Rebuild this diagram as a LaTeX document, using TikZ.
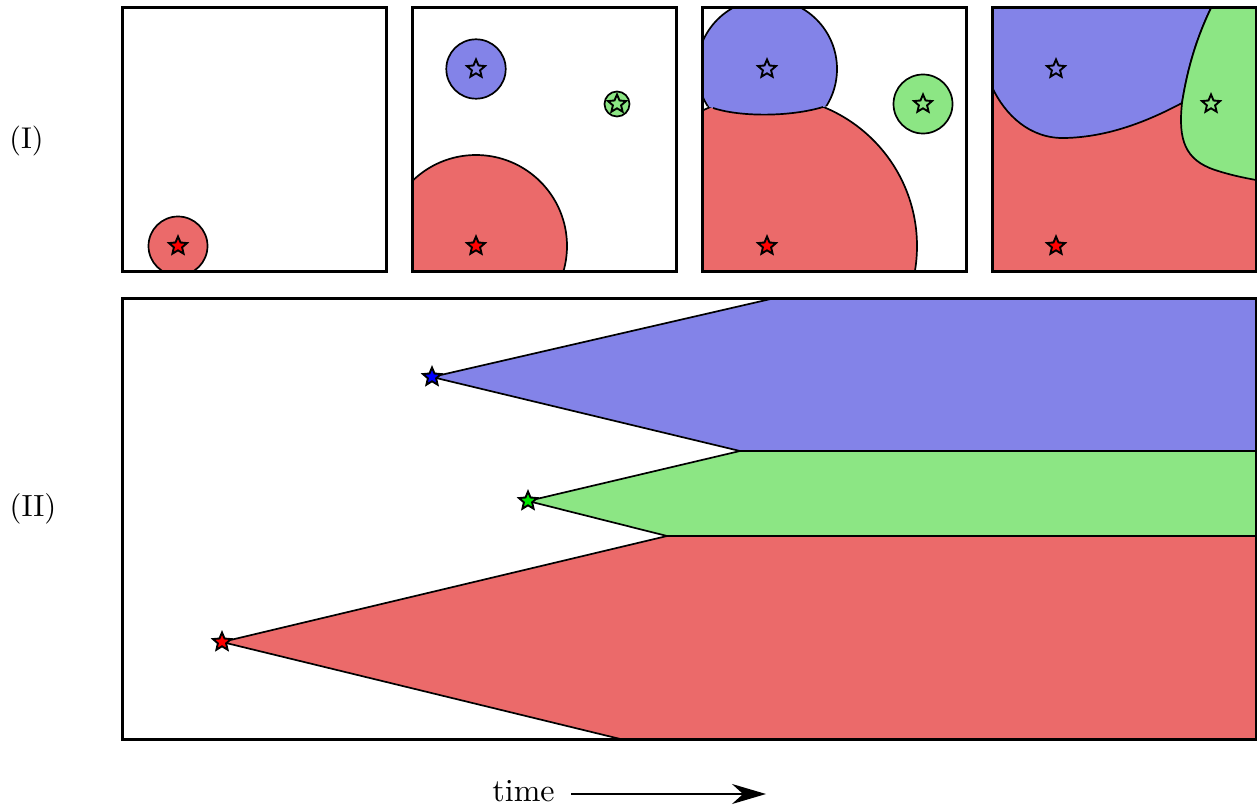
\documentclass[tikz,border=0pt]{standalone}
\usepackage{graphicx}
\usetikzlibrary{shapes.geometric,arrows.meta}
\definecolor{rfill}{RGB}{235,106,106}
\definecolor{bfill}{RGB}{131,131,232}
\definecolor{gfill}{RGB}{140,230,132}
\definecolor{sred}{RGB}{255,0,0}
\definecolor{sblue}{RGB}{0,0,255}
\definecolor{sgreen}{RGB}{0,230,0}
\begin{document}
\begin{tikzpicture}[x=0.5pt,y=-0.5pt,
  frame/.style={line width=1.5pt},
  region/.style={line width=0.85pt,draw=black},
  starnode/.style={star,star points=5,star point ratio=2.2,minimum size=9.5pt,inner sep=0pt,draw=black,line width=0.95pt},
  lbl/.style={inner sep=0pt}]
\useasboundingbox (0,0) rectangle (1257,808);

% ---------- Panel 1 ----------
\begin{scope}
  \clip (122,8) rectangle (386,271);
  \draw[region,fill=rfill] (178,246) circle (29.5);
\end{scope}
\draw[frame] (122,8) rectangle (386,271);
\node[starnode,fill=sred] (p1r) at (178,246) {};

% ---------- Panel 2 ----------
\begin{scope}
  \clip (412,8) rectangle (676,271);
  \draw[region,fill=rfill] (476,246) circle (91);
  \draw[region,fill=bfill] (476,69) circle (29.7);
  \draw[region,fill=gfill] (617,104) circle (12.5);
\end{scope}
\draw[frame] (412,8) rectangle (676,271);
\node[starnode] (p2b) at (476,69) {};
\node[starnode] (p2g) at (617,104) {};
\node[starnode,fill=sred] (p2r) at (476,246) {};

% ---------- Panel 3 ----------
\begin{scope}
  \clip (702,8) rectangle (966,271);
  \draw[region,fill=rfill] (767,246) circle (150);
  \begin{scope}
    \clip (690,102) -- (713,108) .. controls (740,117) and (790,117) .. (823,107) -- (860,100) -- (860,0) -- (690,0) -- cycle;
    \draw[region,fill=bfill] (767,69) circle (70);
  \end{scope}
  \draw[region] (713,108) .. controls (740,117) and (790,117) .. (823,107);
  \draw[region,fill=gfill] (923,104) circle (29.5);
\end{scope}
\draw[frame] (702,8) rectangle (966,271);
\node[starnode] (p3b) at (767,69) {};
\node[starnode] (p3g) at (923,104) {};
\node[starnode,fill=sred] (p3r) at (767,246) {};

% ---------- Panel 4 ----------
\begin{scope}
  \clip (992,8) rectangle (1256,271);
  \fill[rfill] (992,8) rectangle (1256,271);
  \draw[region,fill=bfill] (985,8) -- (1211,8)
     .. controls (1198,35) and (1188,65) .. (1182,103)
     .. controls (1150,120) and (1110,137) .. (1065,138)
     .. controls (1030,139) and (1005,115) .. (992,87) -- (985,87) -- cycle;
  \draw[region,fill=gfill] (1211,8) -- (1262,8) -- (1262,180) -- (1256,180)
     .. controls (1245,178) and (1230,175) .. (1215,170)
     .. controls (1185,160) and (1178,140) .. (1182,103)
     .. controls (1188,65) and (1198,35) .. (1211,8) -- cycle;
\end{scope}
\draw[frame] (992,8) rectangle (1256,271);
\node[starnode] (p4b) at (1056,69) {};
\node[starnode] (p4g) at (1211,104) {};
\node[starnode,fill=sred] (p4r) at (1056,246) {};

% ---------- Bottom panel ----------
\coordinate (tb) at (432,377);
\coordinate (tg) at (528,501);
\coordinate (tr) at (222,642);
\begin{scope}
  \clip (122,298) rectangle (1256,739);
  \draw[region,fill=bfill] (tb) -- (775,298) -- (1262,298) -- (1262,451) -- (740,451) -- cycle;
  \draw[region,fill=gfill] (tg) -- (740,451) -- (1262,451) -- (1262,536) -- (667,536) -- cycle;
  \draw[region,fill=rfill] (tr) -- (667,536) -- (1262,536) -- (1262,745) -- (645,745) -- cycle;
\end{scope}
\draw[frame] (122,298) rectangle (1256,739);
\node[starnode,fill=sblue] (sb) at (tb) {};
\node[starnode,fill=sgreen] (sg) at (tg) {};
\node[starnode,fill=sred] (sr) at (tr) {};

% ---------- Labels ----------
\node[lbl] (lI) at (26.5,141) {\scalebox{1.5}{(I)}};
\node[lbl] (lII) at (33,509) {\scalebox{1.53}{(II)}};
\node[anchor=base west,inner sep=0pt] (time) at (492,801) {\scalebox{1.6}{time}};
\coordinate (ta) at (571,794);
\coordinate (te) at (766,794);
\draw[line width=1pt,-{Stealth[length=17pt,width=10pt]}] (ta) -- (te);
\end{tikzpicture}
\end{document}
